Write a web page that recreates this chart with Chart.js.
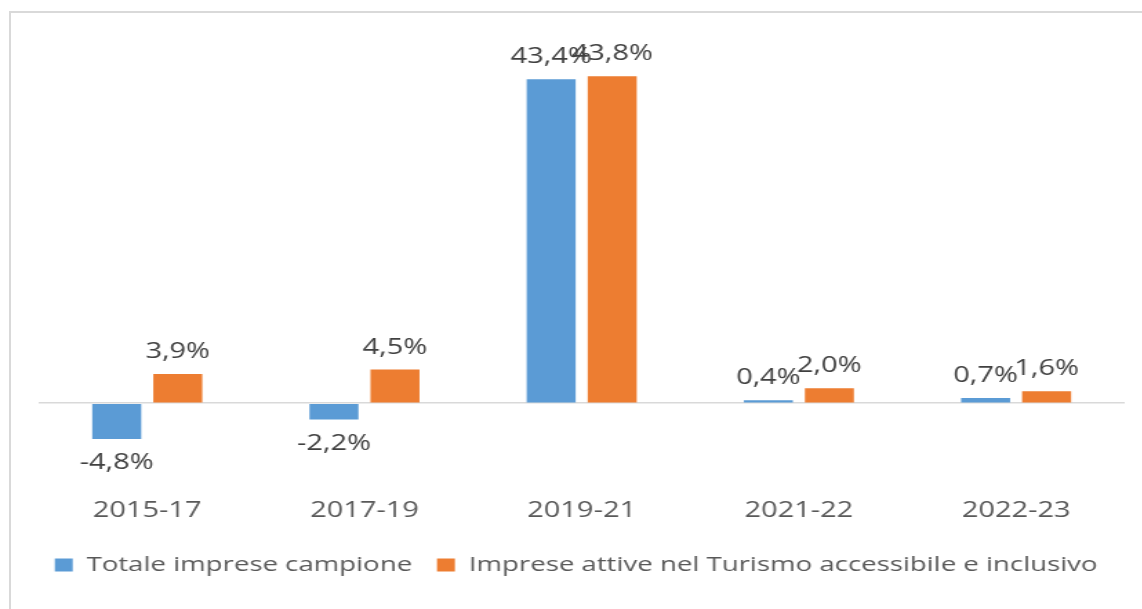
<!DOCTYPE html>
<html>
<head>
<meta charset="utf-8">
<script src="https://cdn.jsdelivr.net/npm/chart.js@4.4.1/dist/chart.umd.min.js"></script>
<style>
  html, body { margin: 0; padding: 0; background: #fff; overflow: hidden; width: 1142px; height: 609px; }
  #frame { position: absolute; left: 9px; top: 11px; width: 1200px; height: 700px; border: 2px solid #d9d9d9; box-sizing: border-box; }
  #wrap { position: absolute; left: 0; top: 0; width: 828px; height: 609px; transform: scaleX(1.38); transform-origin: 0 0; }
</style>
</head>
<body>
<div id="frame"></div>
<div id="wrap"><canvas id="c" width="828" height="609"></canvas></div>
<script>
// ===== Variazione imprese: totale vs turismo accessibile =====
const periods = ['2015-17', '2017-19', '2019-21', '2021-22', '2022-23'];
const totaleImprese = [-4.8, -2.2, 43.4, 0.4, 0.7];
const turismoAccessibile = [3.9, 4.5, 43.8, 2.0, 1.6];
const seriesNames = ['Totale imprese campione', 'Imprese attive nel Turismo accessibile e inclusivo'];

const FONT = "'Open Sans', 'DejaVu Sans', sans-serif";
const fmtPct = v => v.toFixed(1).replace('.', ',') + '%';

// value labels above (or below, if negative) each bar
const barLabels = {
    id: 'barLabels',
    afterDatasetsDraw(chart) {
        const ctx = chart.ctx;
        ctx.save();
        ctx.font = '21px ' + FONT;
        ctx.fillStyle = '#404040';
        ctx.textAlign = 'center';
        ctx.textBaseline = 'middle';
        chart.data.datasets.forEach((ds, i) => {
            chart.getDatasetMeta(i).data.forEach((bar, j) => {
                const v = ds.data[j];
                const y = v >= 0 ? bar.y - 22 : bar.y + 24;
                ctx.fillText(fmtPct(v), bar.x, y);
            });
        });
        ctx.restore();
    }
};

new Chart(document.getElementById('c').getContext('2d'), {
    type: 'bar',
    data: { labels: periods, datasets: [
        { label: seriesNames[0], data: totaleImprese, backgroundColor: '#5B9BD5', categoryPercentage: 0.562, barPercentage: 0.803 },
        { label: seriesNames[1], data: turismoAccessibile, backgroundColor: '#ED7D31', categoryPercentage: 0.562, barPercentage: 0.803 }
    ]},
    options: { responsive: false, animation: false, devicePixelRatio: 1,
        layout: { padding: { left: 20, right: 13, top: 30, bottom: 24 } },
        scales: {
            x: { grid: { display: false }, border: { display: false },
                 ticks: { color: '#595959', padding: 13, font: { family: FONT, size: 21 } } },
            y: { min: -10, max: 50, ticks: { display: false, stepSize: 10 }, border: { display: false },
                 afterFit: s => { s.width = 8; },
                 grid: { drawTicks: false, lineWidth: 1.5, color: c => c.tick.value === 0 ? '#d9d9d9' : 'rgba(0,0,0,0)' } }
        },
        plugins: {
            legend: { position: 'bottom', labels: { boxWidth: 13, boxHeight: 13, padding: 18, color: '#595959', font: { family: FONT, size: 20 } } },
            tooltip: { enabled: false }
        }
    },
    plugins: [barLabels]
});
</script>
</body>
</html>
